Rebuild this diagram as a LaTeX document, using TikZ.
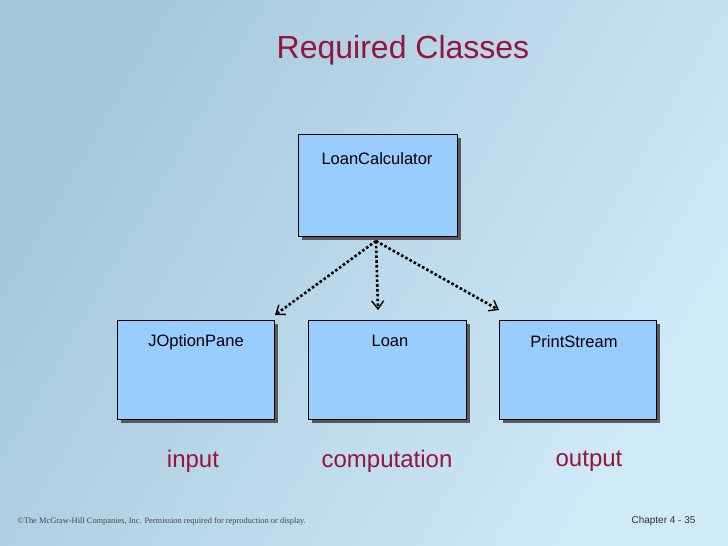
\documentclass[tikz,border=0pt]{standalone}
\usepackage{fontspec}
\setmainfont{Liberation Sans}
\newfontfamily\serifft{Liberation Serif}
\usetikzlibrary{arrows.meta,shadings}
\definecolor{ttl}{RGB}{150,20,60}
\definecolor{boxfill}{RGB}{153,204,255}
\definecolor{bgA}{RGB}{165,200,220}
\definecolor{bgB}{RGB}{208,234,248}
\begin{document}
\begin{tikzpicture}[x=1pt,y=-1pt,
  cls/.style={draw=black,fill=boxfill,line width=0.8pt,anchor=north west,inner sep=0pt},
  shd/.style={fill=gray!70!black,draw=none},
  dep/.style={line width=2.6pt,dash pattern=on 2.6pt off 2.2pt,-{Straight Barb[length=8pt,width=12pt,line width=1.4pt]}},
  cname/.style={font=\fontsize{16.5}{19}\selectfont},
  lbl/.style={text=ttl,font=\fontsize{24}{28}\selectfont}]
\path[use as bounding box,left color=bgA,right color=bgB,shading angle=60] (0,0) rectangle (728,546);
\node[text=ttl,font=\fontsize{32}{36}\selectfont] (t) at (403,50) {Required Classes};
% shadows
\fill[shd] (302,138) rectangle (461,240);
\fill[shd] (121,324) rectangle (278,423);
\fill[shd] (312,324) rectangle (470,423);
\fill[shd] (503,324) rectangle (660,423);
\node[cls,minimum width=159pt,minimum height=102pt] (lc) at (298,134) {};
\node[cls,minimum width=157pt,minimum height=99pt] (jo) at (117,320) {};
\node[cls,minimum width=158pt,minimum height=99pt] (ln) at (308,320) {};
\node[cls,minimum width=157pt,minimum height=99pt] (ps) at (499,320) {};
\node[cname] at (377,159) {LoanCalculator};
\node[cname] at (196,342) {JOptionPane};
\node[cname] at (390,341) {Loan};
\node[cname] at (574,342) {PrintStream};
\coordinate (src) at (376,241);
\draw[dep] (src) -- (275,315);
\draw[dep] (src) -- (378,310);
\draw[dep] (src) -- (499,310);
\node[lbl] (a) at (193,461) {input};
\node[lbl] (b) at (387,461) {computation};
\node[lbl] (c) at (589,461) {output};
\node[anchor=west,text=gray!55!black,font=\serifft\fontsize{8.4}{10}\selectfont] (cp) at (14,521) {©The McGraw-Hill Companies, Inc. Permission required for reproduction or display.};
\node[anchor=east,text=black!80,font=\fontsize{10}{12}\selectfont] (ch) at (699,521) {Chapter 4 - 35};
\end{tikzpicture}
\end{document}
